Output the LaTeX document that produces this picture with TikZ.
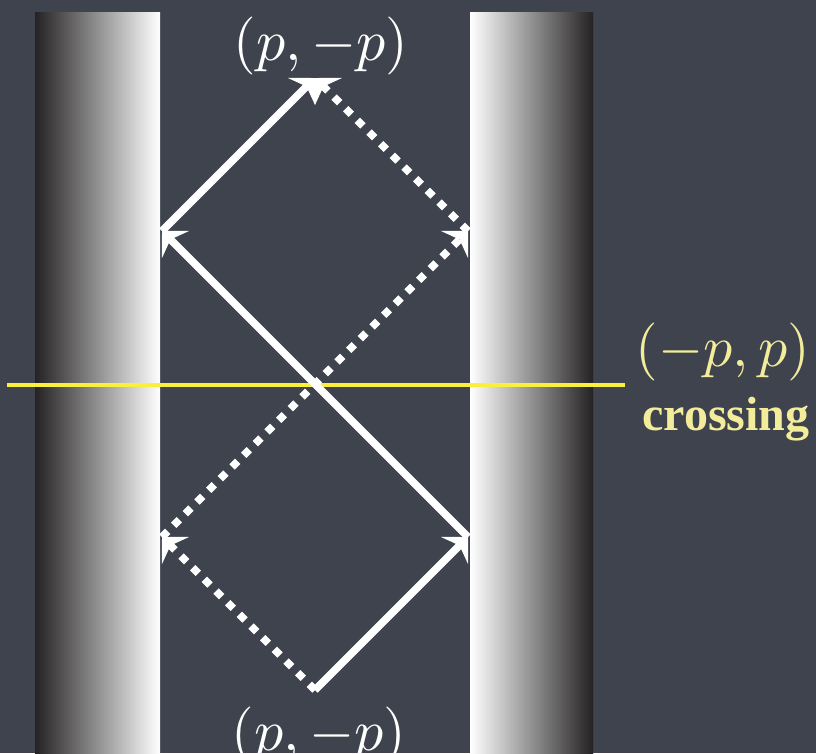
\RequirePackage{fix-cm}
\documentclass[tikz,border=0pt]{standalone}
\usepackage{fontspec}
\newfontfamily\serifbold{Liberation Serif}
\usetikzlibrary{arrows.meta}
\definecolor{bg}{RGB}{62,67,78}
\definecolor{walldark}{RGB}{36,34,34}
\definecolor{hl}{RGB}{250,240,60}
\definecolor{lbl}{RGB}{242,236,155}
\begin{document}
\begin{tikzpicture}[x=1pt,y=-1pt,
  ray/.style={line width=7.5pt, white, -{Stealth[length=19pt,width=38pt,inset=7pt]}},
  dotray/.style={ray, dash pattern=on 8pt off 8.5pt},
  mathlbl/.style={inner sep=0pt, font=\fontsize{10}{12}\selectfont, scale=5.8, transform shape},
  wordlbl/.style={inner sep=0pt, font=\fontsize{48}{56}\selectfont\serifbold\bfseries}]
\fill[bg] (0,0) rectangle (816,753);
\useasboundingbox (0,0) rectangle (816,753);
% walls
\shade[left color=walldark, right color=white] (35,12) rectangle (160,753);
\shade[left color=white, right color=walldark] (470,12) rectangle (593,753);
% crossing line
\coordinate (yl) at (7,385);
\coordinate (yr) at (625,385);
\draw[hl, line width=4.5pt] (yl) -- (yr);
% ray points
\coordinate (B) at (315,690);
\coordinate (R1) at (468,537);
\coordinate (L1) at (162,231);
\coordinate (T) at (315,78);
\coordinate (L2) at (162,537);
\coordinate (R2) at (468,231);
% dotted path
\draw[dotray] (B) -- (L2);
\draw[dotray] (L2) -- (R2);
\draw[dotray] (R2) -- (T);
% solid path
\draw[ray] (B) -- (R1);
\draw[ray] (R1) -- (L1);
\draw[ray] (L1) -- (T);
% labels
\node[mathlbl, white] (top) at (321,46) {$(p,-p)$};
\node[mathlbl, white] (bot) at (319,736) {$(p,-p)$};
\node[mathlbl, lbl] (cross) at (723,352) {$(-p,p)$};
\node[wordlbl, lbl, anchor=base] (word) at (726,430) {crossing};
\end{tikzpicture}
\end{document}
